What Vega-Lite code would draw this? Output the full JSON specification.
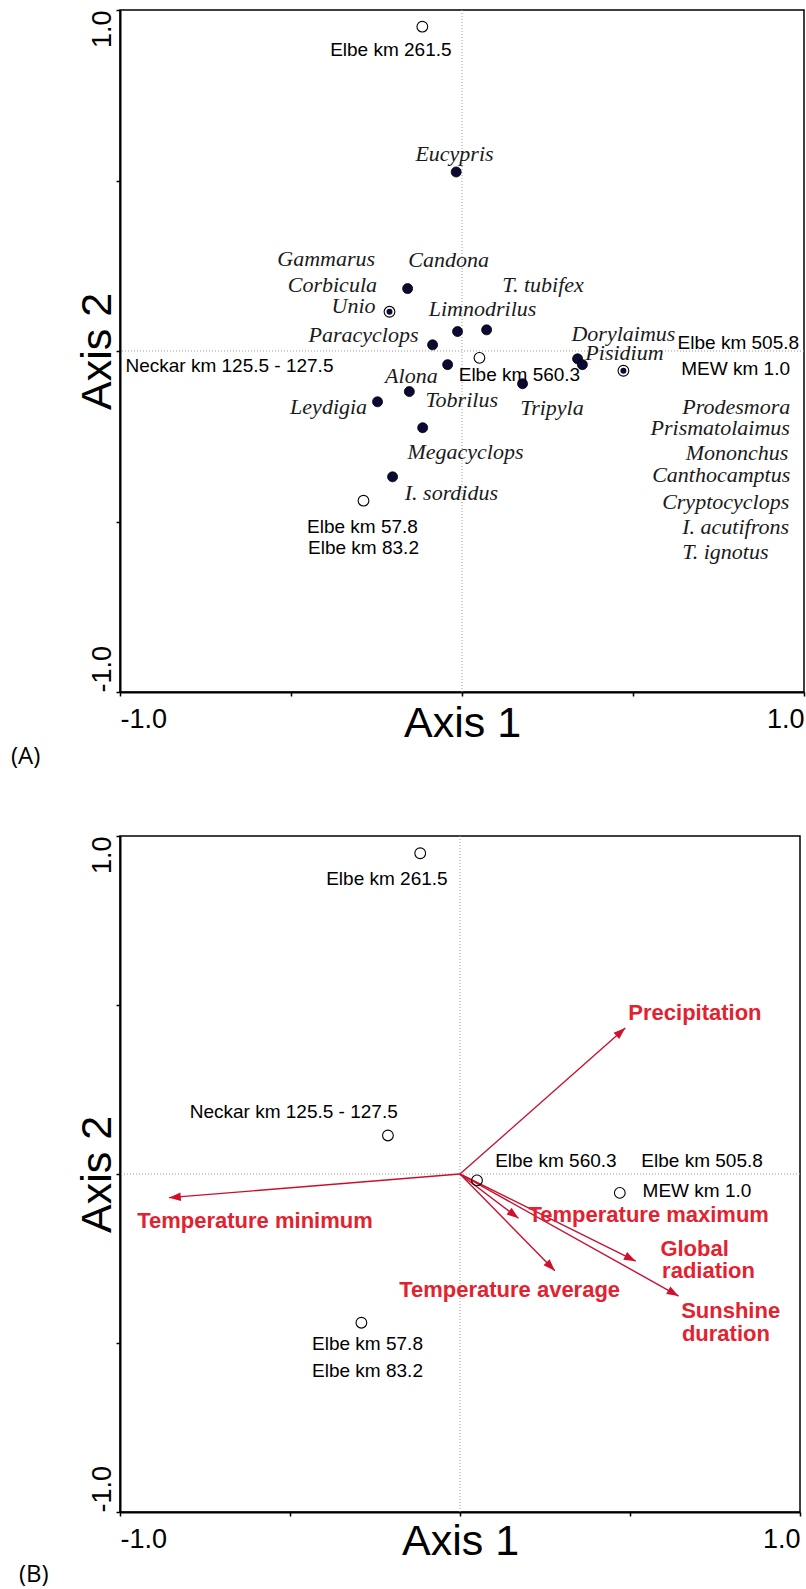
{
  "$schema": "https://vega.github.io/schema/vega-lite/v6.json",
  "background": "white",
  "padding": {"left": 10, "top": 8, "right": 0, "bottom": 0},
  "spacing": 64,
  "config": {
    "view": {"stroke": "black", "strokeWidth": 1.5},
    "axis": {"grid": false, "domainColor": "black", "domainWidth": 2, "tickColor": "black", "tickSize": 4, "tickWidth": 1.5, "labelFont": "Liberation Sans", "labelFontSize": 27, "labelColor": "black", "titleFont": "Liberation Sans", "titleFontSize": 43, "titleFontWeight": "normal", "titleColor": "black"},
    "title": {"font": "Open Sans", "fontSize": 24, "fontWeight": "normal", "color": "black", "orient": "bottom", "anchor": "start", "frame": "bounds"}
  },
  "datasets": {
    "pointsA": [
      {"name": "Elbe km 261.5", "x": -0.116, "y": 0.951, "kind": "site"},
      {"name": "Eucypris", "x": -0.017, "y": 0.525, "kind": "species"},
      {"name": "Corbicula", "x": -0.159, "y": 0.183, "kind": "species"},
      {"name": "Unio", "x": -0.212, "y": 0.115, "kind": "both"},
      {"name": "Limnodrilus", "x": -0.013, "y": 0.057, "kind": "species"},
      {"name": "T. tubifex", "x": 0.072, "y": 0.062, "kind": "species"},
      {"name": "Paracyclops", "x": -0.086, "y": 0.018, "kind": "species"},
      {"name": "Alona", "x": -0.042, "y": -0.040, "kind": "species"},
      {"name": "Elbe km 560.3", "x": 0.051, "y": -0.020, "kind": "site"},
      {"name": "Tobrilus", "x": -0.154, "y": -0.119, "kind": "species"},
      {"name": "Leydigia", "x": -0.247, "y": -0.149, "kind": "species"},
      {"name": "Tripyla", "x": 0.177, "y": -0.096, "kind": "species"},
      {"name": "Megacyclops", "x": -0.115, "y": -0.225, "kind": "species"},
      {"name": "I. sordidus", "x": -0.203, "y": -0.369, "kind": "species"},
      {"name": "Elbe km 57.8", "x": -0.288, "y": -0.439, "kind": "site"},
      {"name": "Dorylaimus", "x": 0.338, "y": -0.023, "kind": "species"},
      {"name": "Pisidium", "x": 0.352, "y": -0.040, "kind": "species"},
      {"name": "MEW km 1.0", "x": 0.472, "y": -0.058, "kind": "both"}
    ],
    "labelsA": [
      {"label": "Elbe km 261.5", "x": -0.208, "y": 0.883, "kind": "site"},
      {"label": "Neckar km 125.5 - 127.5", "x": -0.680, "y": -0.044, "kind": "site"},
      {"label": "Elbe km 560.3", "x": 0.168, "y": -0.070, "kind": "site"},
      {"label": "Elbe km 57.8", "x": -0.291, "y": -0.515, "kind": "site"},
      {"label": "Elbe km 83.2", "x": -0.288, "y": -0.579, "kind": "site"},
      {"label": "Elbe km 505.8", "x": 0.808, "y": 0.024, "kind": "site"},
      {"label": "MEW km 1.0", "x": 0.800, "y": -0.052, "kind": "site"},
      {"label": "Eucypris", "x": -0.022, "y": 0.579, "kind": "species"},
      {"label": "Gammarus", "x": -0.397, "y": 0.270, "kind": "species"},
      {"label": "Candona", "x": -0.039, "y": 0.268, "kind": "species"},
      {"label": "Corbicula", "x": -0.379, "y": 0.194, "kind": "species"},
      {"label": "T. tubifex", "x": 0.237, "y": 0.194, "kind": "species"},
      {"label": "Unio", "x": -0.317, "y": 0.133, "kind": "species"},
      {"label": "Limnodrilus", "x": 0.060, "y": 0.124, "kind": "species"},
      {"label": "Paracyclops", "x": -0.288, "y": 0.048, "kind": "species"},
      {"label": "Alona", "x": -0.148, "y": -0.072, "kind": "species"},
      {"label": "Tobrilus", "x": -0.001, "y": -0.143, "kind": "species"},
      {"label": "Leydigia", "x": -0.390, "y": -0.163, "kind": "species"},
      {"label": "Tripyla", "x": 0.263, "y": -0.168, "kind": "species"},
      {"label": "Megacyclops", "x": 0.010, "y": -0.295, "kind": "species"},
      {"label": "I. sordidus", "x": -0.031, "y": -0.416, "kind": "species"},
      {"label": "Dorylaimus", "x": 0.472, "y": 0.051, "kind": "species"},
      {"label": "Pisidium", "x": 0.475, "y": -0.005, "kind": "species"},
      {"label": "Prodesmora", "x": 0.802, "y": -0.165, "kind": "species"},
      {"label": "Prismatolaimus", "x": 0.755, "y": -0.227, "kind": "species"},
      {"label": "Mononchus", "x": 0.804, "y": -0.300, "kind": "species"},
      {"label": "Canthocamptus", "x": 0.758, "y": -0.363, "kind": "species"},
      {"label": "Cryptocyclops", "x": 0.771, "y": -0.442, "kind": "species"},
      {"label": "I. acutifrons", "x": 0.800, "y": -0.515, "kind": "species"},
      {"label": "T. ignotus", "x": 0.770, "y": -0.589, "kind": "species"}
    ],
    "sitesB": [
      {"name": "Elbe km 261.5", "x": -0.117, "y": 0.949},
      {"name": "Neckar km 125.5 - 127.5", "x": -0.212, "y": 0.114},
      {"name": "Elbe km 560.3", "x": 0.050, "y": -0.019},
      {"name": "MEW km 1.0", "x": 0.470, "y": -0.056},
      {"name": "Elbe km 57.8", "x": -0.290, "y": -0.440}
    ],
    "labelsB": [
      {"label": "Elbe km 261.5", "x": -0.215, "y": 0.874, "kind": "site"},
      {"label": "Neckar km 125.5 - 127.5", "x": -0.489, "y": 0.183, "kind": "site"},
      {"label": "Elbe km 560.3", "x": 0.282, "y": 0.038, "kind": "site"},
      {"label": "Elbe km 505.8", "x": 0.712, "y": 0.038, "kind": "site"},
      {"label": "MEW km 1.0", "x": 0.697, "y": -0.049, "kind": "site"},
      {"label": "Elbe km 57.8", "x": -0.272, "y": -0.504, "kind": "site"},
      {"label": "Elbe km 83.2", "x": -0.272, "y": -0.583, "kind": "site"},
      {"label": "Precipitation", "x": 0.691, "y": 0.475, "kind": "var"},
      {"label": "Temperature minimum", "x": -0.603, "y": -0.140, "kind": "var"},
      {"label": "Temperature maximum", "x": 0.555, "y": -0.122, "kind": "var"},
      {"label": "Global", "x": 0.690, "y": -0.221, "kind": "var"},
      {"label": "radiation", "x": 0.731, "y": -0.288, "kind": "var"},
      {"label": "Temperature average", "x": 0.146, "y": -0.343, "kind": "var"},
      {"label": "Sunshine", "x": 0.796, "y": -0.405, "kind": "var"},
      {"label": "duration", "x": 0.782, "y": -0.472, "kind": "var"}
    ],
    "arrows": [
      {"variable": "Precipitation", "x": 0.486, "y": 0.432},
      {"variable": "Temperature minimum", "x": -0.856, "y": -0.070},
      {"variable": "Temperature maximum", "x": 0.172, "y": -0.131},
      {"variable": "Temperature average", "x": 0.279, "y": -0.286},
      {"variable": "Global radiation", "x": 0.517, "y": -0.258},
      {"variable": "Sunshine duration", "x": 0.643, "y": -0.361}
    ],
    "origin": [{"x": 0, "y": 0}]
  },
  "vconcat": [
    {
      "width": 684,
      "height": 682,
      "title": {"text": "(A)", "dx": -65, "offset": 0},
      "layer": [
        {
          "data": {"name": "origin"},
          "mark": {"type": "rule", "color": "#9a9a9a", "strokeWidth": 1, "strokeDash": [1, 2]},
          "encoding": {
            "x": {"field": "x", "type": "quantitative", "scale": {"domain": [-1, 1], "nice": false, "zero": false},
              "axis": {"title": "Axis 1", "values": [-1, -0.5, 0, 0.5, 1], "labelExpr": "datum.value == 1 ? '1.0' : datum.value == -1 ? '-1.0' : ''", "labelFlush": true, "labelPadding": 10, "titleY": 44, "titleBaseline": "alphabetic"}}
          }
        },
        {
          "data": {"name": "origin"},
          "mark": {"type": "rule", "color": "#9a9a9a", "strokeWidth": 1, "strokeDash": [1, 2]},
          "encoding": {
            "y": {"field": "y", "type": "quantitative", "scale": {"domain": [-1, 1], "nice": false, "zero": false},
              "axis": {"title": "Axis 2", "values": [-1, -0.5, 0, 0.5, 1], "labelExpr": "datum.value == 1 ? '1.0' : datum.value == -1 ? '-1.0' : ''", "labelAngle": -90, "labelAlign": {"condition": {"test": "datum.value > 0", "value": "right"}, "value": "left"}, "labelBaseline": "alphabetic", "labelPadding": 6, "titleX": -10, "titleAngle": -90, "titleBaseline": "alphabetic"}}
          }
        },
        {
          "data": {"name": "pointsA"},
          "transform": [{"filter": "datum.kind == 'species'"}],
          "mark": {"type": "point", "shape": "circle", "filled": true, "size": 100, "color": "#0a0a35", "opacity": 1, "stroke": "black", "strokeWidth": 0.8},
          "encoding": {
            "x": {"field": "x", "type": "quantitative", "scale": {"domain": [-1, 1], "nice": false, "zero": false}},
            "y": {"field": "y", "type": "quantitative", "scale": {"domain": [-1, 1], "nice": false, "zero": false}}
          }
        },
        {
          "data": {"name": "pointsA"},
          "transform": [{"filter": "datum.kind != 'species'"}],
          "mark": {"type": "point", "shape": "circle", "filled": true, "size": 115, "fill": "white", "stroke": "black", "strokeWidth": 1.1, "opacity": 1},
          "encoding": {
            "x": {"field": "x", "type": "quantitative", "scale": {"domain": [-1, 1], "nice": false, "zero": false}},
            "y": {"field": "y", "type": "quantitative", "scale": {"domain": [-1, 1], "nice": false, "zero": false}}
          }
        },
        {
          "data": {"name": "pointsA"},
          "transform": [{"filter": "datum.kind == 'both'"}],
          "mark": {"type": "point", "shape": "circle", "filled": true, "size": 36, "color": "#0a0a35", "opacity": 1},
          "encoding": {
            "x": {"field": "x", "type": "quantitative", "scale": {"domain": [-1, 1], "nice": false, "zero": false}},
            "y": {"field": "y", "type": "quantitative", "scale": {"domain": [-1, 1], "nice": false, "zero": false}}
          }
        },
        {
          "data": {"name": "labelsA"},
          "transform": [{"filter": "datum.kind == 'site'"}],
          "mark": {"type": "text", "font": "Liberation Sans", "fontSize": 19, "color": "black", "align": "center", "baseline": "middle"},
          "encoding": {
            "x": {"field": "x", "type": "quantitative", "scale": {"domain": [-1, 1], "nice": false, "zero": false}},
            "y": {"field": "y", "type": "quantitative", "scale": {"domain": [-1, 1], "nice": false, "zero": false}},
            "text": {"field": "label"}
          }
        },
        {
          "data": {"name": "labelsA"},
          "transform": [{"filter": "datum.kind == 'species'"}],
          "mark": {"type": "text", "font": "Liberation Serif", "fontStyle": "italic", "fontSize": 22, "color": "#1a1a1a", "align": "center", "baseline": "middle"},
          "encoding": {
            "x": {"field": "x", "type": "quantitative", "scale": {"domain": [-1, 1], "nice": false, "zero": false}},
            "y": {"field": "y", "type": "quantitative", "scale": {"domain": [-1, 1], "nice": false, "zero": false}},
            "text": {"field": "label"}
          }
        }
      ]
    },
    {
      "width": 680,
      "height": 676,
      "title": {"text": "(B)", "dx": -57, "offset": 0},
      "layer": [
        {
          "data": {"name": "origin"},
          "mark": {"type": "rule", "color": "#9a9a9a", "strokeWidth": 1, "strokeDash": [1, 2]},
          "encoding": {
            "x": {"field": "x", "type": "quantitative", "scale": {"domain": [-1, 1], "nice": false, "zero": false},
              "axis": {"title": "Axis 1", "values": [-1, -0.5, 0, 0.5, 1], "labelExpr": "datum.value == 1 ? '1.0' : datum.value == -1 ? '-1.0' : ''", "labelFlush": true, "labelPadding": 10, "titleY": 42, "titleBaseline": "alphabetic"}}
          }
        },
        {
          "data": {"name": "origin"},
          "mark": {"type": "rule", "color": "#9a9a9a", "strokeWidth": 1, "strokeDash": [1, 2]},
          "encoding": {
            "y": {"field": "y", "type": "quantitative", "scale": {"domain": [-1, 1], "nice": false, "zero": false},
              "axis": {"title": "Axis 2", "values": [-1, -0.5, 0, 0.5, 1], "labelExpr": "datum.value == 1 ? '1.0' : datum.value == -1 ? '-1.0' : ''", "labelAngle": -90, "labelAlign": {"condition": {"test": "datum.value > 0", "value": "right"}, "value": "left"}, "labelBaseline": "alphabetic", "labelPadding": 6, "titleX": -10, "titleAngle": -90, "titleBaseline": "alphabetic"}}
          }
        },
        {
          "data": {"name": "arrows"},
          "mark": {"type": "rule", "color": "#c8102e", "strokeWidth": 1.4},
          "encoding": {
            "x": {"field": "x", "type": "quantitative", "scale": {"domain": [-1, 1], "nice": false, "zero": false}},
            "y": {"field": "y", "type": "quantitative", "scale": {"domain": [-1, 1], "nice": false, "zero": false}},
            "x2": {"datum": 0},
            "y2": {"datum": 0}
          }
        },
        {
          "data": {"name": "arrows"},
          "mark": {"type": "point", "shape": "M0,0L-1,-0.36L-1,0.36Z", "filled": true, "size": 560, "color": "#d0102e", "opacity": 1, "angle": {"expr": "atan2(-datum.y, datum.x) * 180 / PI"}},
          "encoding": {
            "x": {"field": "x", "type": "quantitative", "scale": {"domain": [-1, 1], "nice": false, "zero": false}},
            "y": {"field": "y", "type": "quantitative", "scale": {"domain": [-1, 1], "nice": false, "zero": false}}
          }
        },
        {
          "data": {"name": "sitesB"},
          "mark": {"type": "point", "shape": "circle", "filled": true, "size": 115, "fill": "white", "fillOpacity": 0, "stroke": "black", "strokeWidth": 1.1, "opacity": 1},
          "encoding": {
            "x": {"field": "x", "type": "quantitative", "scale": {"domain": [-1, 1], "nice": false, "zero": false}},
            "y": {"field": "y", "type": "quantitative", "scale": {"domain": [-1, 1], "nice": false, "zero": false}}
          }
        },
        {
          "data": {"name": "labelsB"},
          "transform": [{"filter": "datum.kind == 'site'"}],
          "mark": {"type": "text", "font": "Liberation Sans", "fontSize": 19, "color": "black", "align": "center", "baseline": "middle"},
          "encoding": {
            "x": {"field": "x", "type": "quantitative", "scale": {"domain": [-1, 1], "nice": false, "zero": false}},
            "y": {"field": "y", "type": "quantitative", "scale": {"domain": [-1, 1], "nice": false, "zero": false}},
            "text": {"field": "label"}
          }
        },
        {
          "data": {"name": "labelsB"},
          "transform": [{"filter": "datum.kind == 'var'"}],
          "mark": {"type": "text", "font": "Liberation Sans", "fontWeight": "bold", "fontSize": 22, "color": "#e3222f", "align": "center", "baseline": "middle"},
          "encoding": {
            "x": {"field": "x", "type": "quantitative", "scale": {"domain": [-1, 1], "nice": false, "zero": false}},
            "y": {"field": "y", "type": "quantitative", "scale": {"domain": [-1, 1], "nice": false, "zero": false}},
            "text": {"field": "label"}
          }
        }
      ]
    }
  ]
}
